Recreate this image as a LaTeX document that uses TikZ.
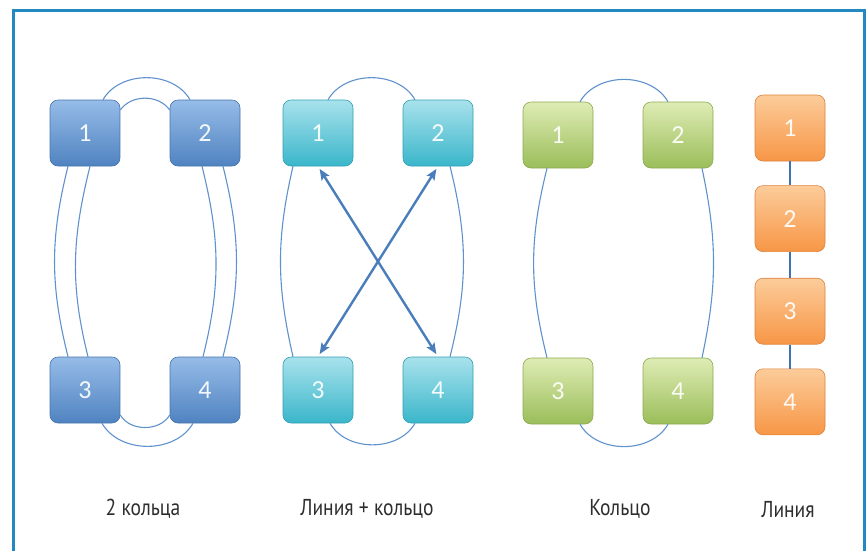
\documentclass[tikz,border=0pt]{standalone}
\usepackage{fontspec}
\usepackage{tikz}
\usetikzlibrary{arrows.meta,positioning}
\newfontfamily\numfont{Carlito}
\newfontfamily\lblfont[FakeStretch=0.85]{PT Sans}
\definecolor{framecol}{HTML}{2289C1}
\definecolor{linkcol}{HTML}{5F92CC}
\definecolor{arrowcol}{HTML}{4A7EBB}
\definecolor{barcol}{HTML}{3E72B0}
\definecolor{textcol}{HTML}{2D2D2D}
\definecolor{blueT}{RGB}{150,188,232}
\definecolor{blueB}{RGB}{79,131,192}
\definecolor{blueD}{RGB}{70,115,175}
\definecolor{cyanT}{RGB}{168,226,236}
\definecolor{cyanB}{RGB}{58,182,202}
\definecolor{cyanD}{RGB}{50,160,180}
\definecolor{greenT}{RGB}{222,236,180}
\definecolor{greenB}{RGB}{155,190,90}
\definecolor{greenD}{RGB}{140,170,80}
\definecolor{orangeT}{RGB}{252,204,154}
\definecolor{orangeB}{RGB}{247,150,70}
\definecolor{orangeD}{RGB}{220,130,60}
\tikzset{
  x=1pt,y=-1pt,
  block/.style={rounded corners=8pt,minimum width=70pt,minimum height=66pt,inner sep=0pt,
    line width=0.6pt,text=white,text opacity=0.92,font=\numfont\fontsize{26}{26}\selectfont},
  blueb/.style={block,draw=blueD,top color=blueT,bottom color=blueB},
  cyanb/.style={block,draw=cyanD,top color=cyanT,bottom color=cyanB},
  greenb/.style={block,draw=greenD,top color=greenT,bottom color=greenB},
  orangeb/.style={block,draw=orangeD,top color=orangeT,bottom color=orangeB},
  link/.style={draw=linkcol,line width=1.1pt},
  arrow/.style={{Stealth[length=11pt,width=9pt,inset=2pt]}-{Stealth[length=11pt,width=9pt,inset=2pt]},draw=arrowcol,line width=2.4pt,shorten <=3pt,shorten >=3pt},
  caption/.style={text=textcol,font=\lblfont\fontsize{23}{23}\selectfont},
}
\begin{document}
\begin{tikzpicture}
  \useasboundingbox (0,0) rectangle (867,550);
  \draw[framecol,line width=3pt] (13,560) -- (13,10) -- (864,10) -- (864,560);

  % 2 rings
  \node[blueb] (a1) at (85,133) {1};
  \node[blueb] (a2) at (205,133) {2};
  \node[blueb] (a3) at (85,390) {3};
  \node[blueb] (a4) at (205,390) {4};
  \draw[link] ([xshift=18pt]a1.north) to[out=60,in=120] ([xshift=-15pt]a2.north);
  \draw[link] ([yshift=23pt]a1.east) to[out=55,in=125] ([yshift=23pt]a2.west);
  \draw[link] ([xshift=-17pt]a1.south) to[out=-104,in=104] ([xshift=-17pt]a3.north);
  \draw[link] ([xshift=5pt]a1.south) to[out=-104,in=104] ([xshift=3pt]a3.north);
  \draw[link] ([xshift=-3pt]a2.south) to[out=-76,in=76] ([xshift=-2pt]a4.north);
  \draw[link] ([xshift=18pt]a2.south) to[out=-76,in=76] ([xshift=18pt]a4.north);
  \draw[link] ([xshift=17pt]a3.south) to[out=-60,in=-120] ([xshift=-12pt]a4.south);
  \draw[link] ([yshift=-25pt]a3.east) to[out=-60,in=-120] ([yshift=-25pt]a4.west);
  \node[caption] (lbl1) at (143,509) {2 кольца};

  % line + ring
  \node[cyanb] (b1) at (318,133) {1};
  \node[cyanb] (b2) at (438,133) {2};
  \node[cyanb] (b3) at (318,390) {3};
  \node[cyanb] (b4) at (438,390) {4};
  \draw[link] ([xshift=10pt]b1.north) to[out=60,in=120] ([xshift=-23pt]b2.north);
  \draw[link] ([xshift=-25pt]b1.south) to[out=-103,in=103] ([xshift=-25pt]b3.north);
  \draw[link] ([xshift=12pt]b2.south) to[out=-76,in=76] ([xshift=12pt]b4.north);
  \draw[link] ([xshift=12pt]b3.south) to[out=-60,in=-120] ([xshift=-23pt]b4.south);
  \draw[arrow] (b1.south) -- (b4.north);
  \draw[arrow] (b2.south) -- (b3.north);
  \node[caption] (lbl2) at (367,509) {Линия + кольцо};

  % ring
  \node[greenb] (c1) at (558,135) {1};
  \node[greenb] (c2) at (678,135) {2};
  \node[greenb] (c3) at (558,391) {3};
  \node[greenb] (c4) at (678,391) {4};
  \draw[link] ([xshift=22pt]c1.north) to[out=60,in=120] ([xshift=-10pt]c2.north);
  \draw[link] ([xshift=-11pt]c1.south) to[out=-104,in=104] ([xshift=-11pt]c3.north);
  \draw[link] ([xshift=24pt]c2.south) to[out=-78,in=78] ([xshift=24pt]c4.north);
  \draw[link] ([xshift=22pt]c3.south) to[out=-60,in=-120] ([xshift=-10pt]c4.south);
  \node[caption] (lbl3) at (620,509) {Кольцо};

  % line
  \node[orangeb] (d1) at (790,128) {1};
  \node[orangeb,below=24pt of d1] (d2) {2};
  \node[orangeb,below=26pt of d2] (d3) {3};
  \node[orangeb,below=24pt of d3] (d4) {4};
  \draw[barcol,line width=2pt] (d1) -- (d2) (d2) -- (d3) (d3) -- (d4);
  \node[caption] (lbl4) at (788,509) {Линия};
\end{tikzpicture}
\end{document}
